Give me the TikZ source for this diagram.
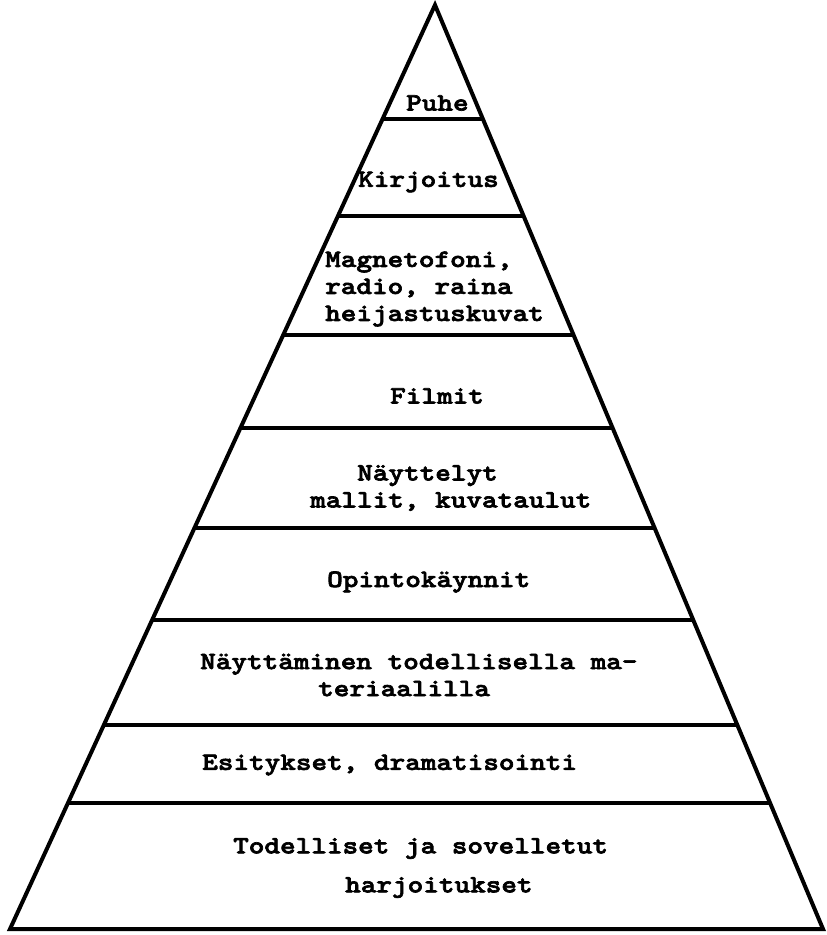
\documentclass[tikz,border=0pt]{standalone}
\usepackage{fontspec}
% heavy slab-serif typewriter face, widened to a typewriter pitch
\newfontfamily\typewriter{lmmonolt10-bold.otf}[FakeStretch=1.19, FakeBold=2.6]
\usetikzlibrary{calc}
\begin{document}
\begin{tikzpicture}[x=1pt,y=-1pt,
  side/.style={line width=4pt, line join=miter},
  tier/.style={line width=3.4pt},
  label/.style={anchor=west, inner sep=0pt, align=left,
    font=\typewriter\fontsize{25}{27}\selectfont}]
\useasboundingbox (0,0) rectangle (827,935);

% outline of the pyramid
\coordinate (apex) at (435,5);
\coordinate (bl) at (10,929);
\coordinate (br) at (823,929);
\draw[side] (bl) -- (apex) -- (br) -- cycle;

% dividing lines between the tiers
\foreach \t [count=\i] in {0.1234,0.2284,0.3571,0.4578,0.5660,0.6656,0.7792,0.8636}{
  \coordinate (l\i) at ($(apex)!\t!(bl)$);
  \coordinate (r\i) at ($(apex)!\t!(br)$);
  \draw[tier] (l\i) -- (r\i);
}

% tier labels, top to bottom
\node[label] (puhe) at (406,103) {Puhe};
\node[label] (kirj) at (358,182) {Kirjoitus};
\node[label] (magn) at (325,289) {Magnetofoni,\\radio, raina\\heijastuskuvat};
\node[label] (film) at (390,396) {Filmit};
\node[label] (nayt) at (310,488) {\hspace*{47pt}Näyttelyt\\mallit, kuvataulut};
\node[label] (opin) at (327,582) {Opintokäynnit};
\node[label] (mate) at (200,675) {Näyttäminen todellisella ma-\\\hspace*{118pt}teriaalilla};
\node[label] (esit) at (202,765) {Esitykset, dramatisointi};
\node[label] (harj) at (233,868) {Todelliset ja sovelletut\\[12pt]\hspace*{112pt}harjoitukset};
\end{tikzpicture}
\end{document}
